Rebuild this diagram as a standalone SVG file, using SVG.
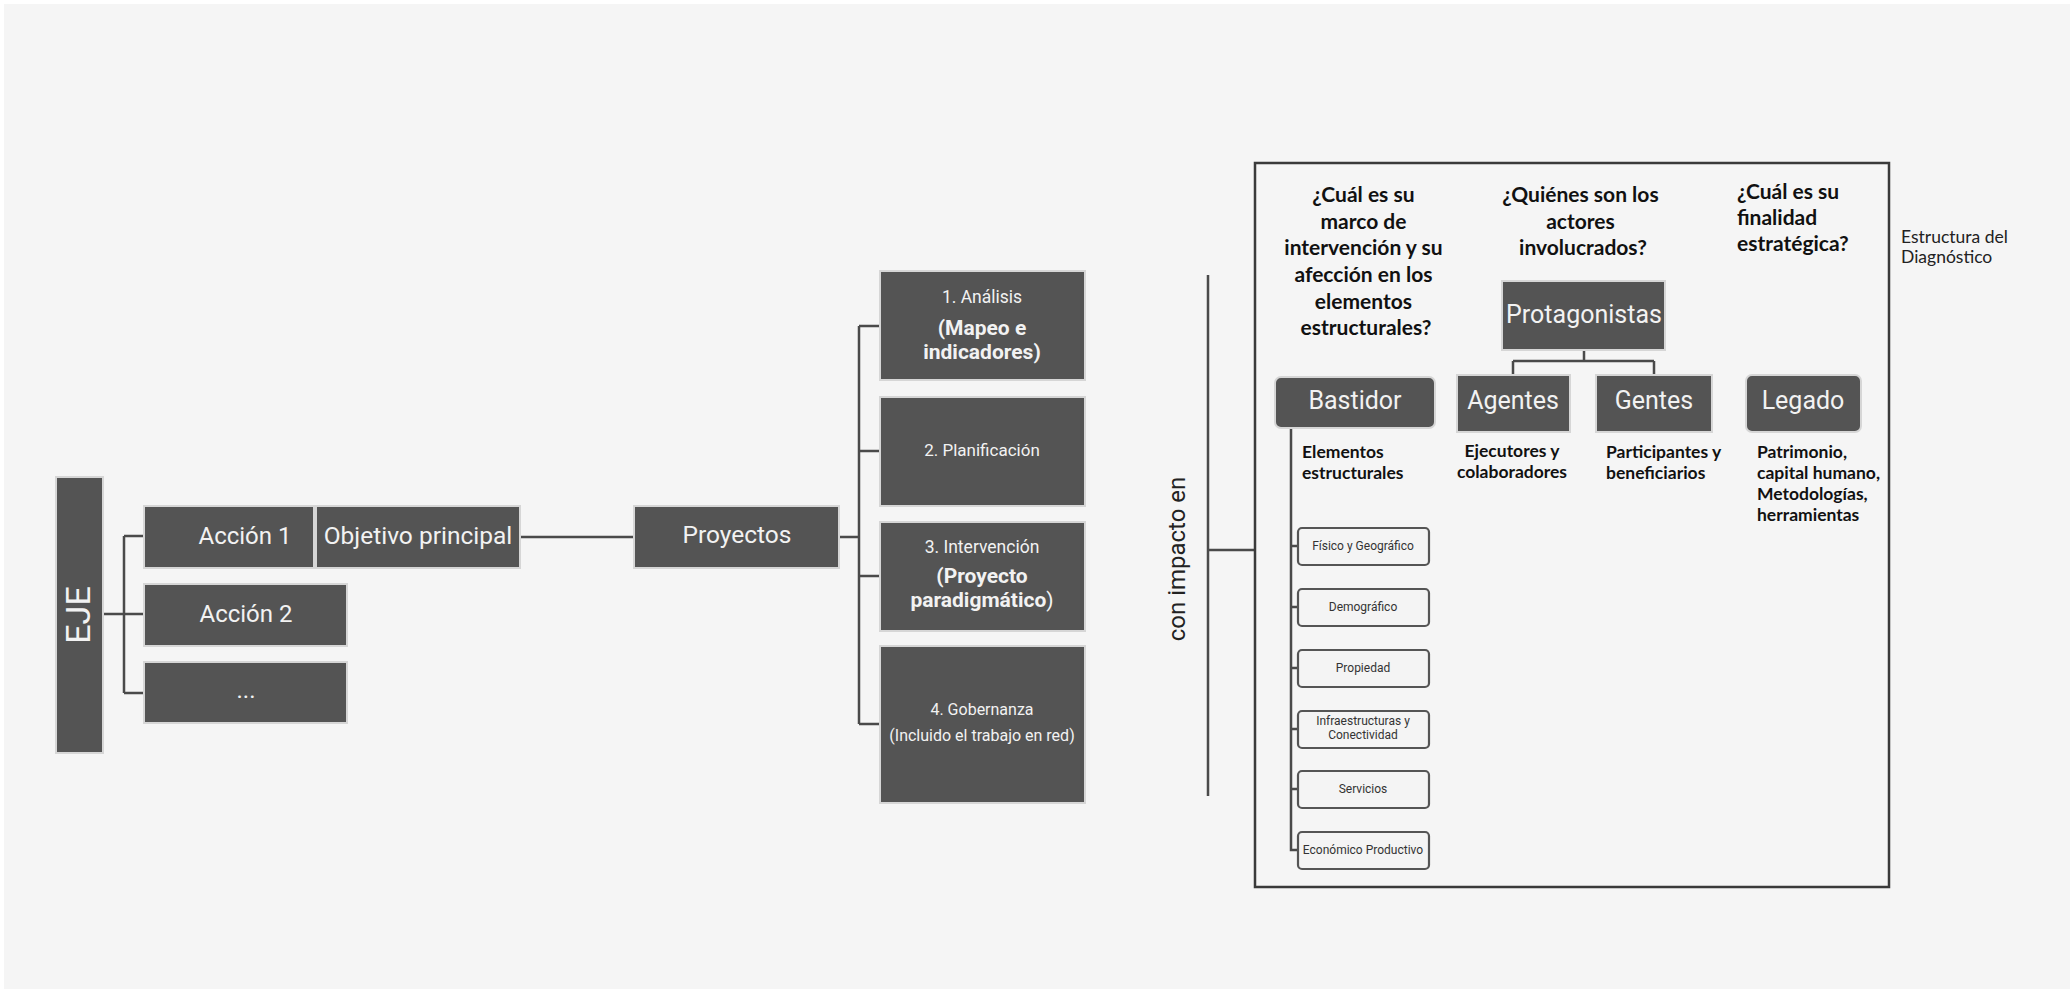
<svg xmlns="http://www.w3.org/2000/svg" width="2071" height="989" viewBox="0 0 2071 989">
<style>
.dk{fill:#545454;stroke:#d6d6d6;stroke-width:2}
.sm{fill:#f4f4f4;stroke:#555;stroke-width:2.2}
.con{fill:none;stroke:#4a4a4a;stroke-width:2.5}
.bt{font-family:Roboto,"Liberation Sans",sans-serif;fill:#f2f2f2;text-anchor:middle}
.st{font-family:Roboto,"Liberation Sans",sans-serif;fill:#333;font-size:12px;text-anchor:middle}
.q{font-family:Lato,"Liberation Sans",sans-serif;font-weight:bold;fill:#111;font-size:21px}
.d{font-family:Lato,"Liberation Sans",sans-serif;font-weight:bold;fill:#111;font-size:17.5px}
</style>
<rect x="0" y="0" width="2071" height="989" fill="#ffffff"/>
<rect x="4" y="4" width="2066" height="985" fill="#f5f5f5"/>

<g id="connectors">
<path class="con" d="M104 614 H124 M124 536 V693 M124 536 H144 M124 614 H144 M124 693 H144"/>
<path class="con" d="M521 537 H634"/>
<path class="con" d="M840 537 H859 M859 326 V724 M859 326 H880 M859 451 H880 M859 576 H880 M859 724 H880"/>
<path class="con" d="M1208 275 V796 M1208 550 H1255"/>
<path class="con" d="M1584 351 V361 M1513 361 H1654 M1513 361 V374 M1654 361 V374"/>
<path class="con" d="M1291 428 V850 H1298 M1291 546 H1298 M1291 607 H1298 M1291 668 H1298 M1291 729 H1298 M1291 789 H1298"/>
</g>

<g id="frame">
<rect x="1255" y="163" width="634" height="724" fill="none" stroke="#3a3a3a" stroke-width="2.5"/>
</g>

<g id="eje">
<rect class="dk" x="56" y="477" width="47" height="276"/>
<text class="bt" font-size="34" transform="translate(90,615) rotate(-90)">EJE</text>
</g>
<g id="accion1">
<rect class="dk" x="144" y="506" width="170" height="62"/>
<text class="bt" font-size="24" x="245" y="544">Acción 1</text>
</g>
<g id="objetivo">
<rect class="dk" x="316" y="506" width="204" height="62"/>
<text class="bt" font-size="24.5" x="418" y="544">Objetivo principal</text>
</g>
<g id="accion2">
<rect class="dk" x="144" y="584" width="203" height="62"/>
<text class="bt" font-size="24" x="246" y="622">Acción 2</text>
</g>
<g id="accion3">
<rect class="dk" x="144" y="662" width="203" height="61"/>
<text class="bt" font-size="24" x="246" y="698">...</text>
</g>
<g id="proyectos">
<rect class="dk" x="634" y="506" width="205" height="62"/>
<text class="bt" font-size="24.5" x="737" y="543">Proyectos</text>
</g>
<g id="analisis">
<rect class="dk" x="880" y="271" width="205" height="109"/>
<text class="bt" font-size="17.5" x="982" y="303">1. Análisis</text>
<text class="bt" font-size="21" font-weight="bold" x="982" y="335">(Mapeo e</text>
<text class="bt" font-size="21" font-weight="bold" x="982" y="359">indicadores)</text>
</g>
<g id="planificacion">
<rect class="dk" x="880" y="397" width="205" height="109"/>
<text class="bt" font-size="17" x="982" y="456">2. Planificación</text>
</g>
<g id="intervencion">
<rect class="dk" x="880" y="522" width="205" height="109"/>
<text class="bt" font-size="17.5" x="982" y="553">3. Intervención</text>
<text class="bt" font-size="21" font-weight="bold" x="982" y="583">(Proyecto</text>
<text class="bt" font-size="21" x="982" y="607"><tspan font-weight="bold">paradigmático</tspan>)</text>
</g>
<g id="gobernanza">
<rect class="dk" x="880" y="646" width="205" height="157"/>
<text class="bt" font-size="16" x="982" y="715">4. Gobernanza</text>
<text class="bt" font-size="16" x="982" y="741">(Incluido el trabajo en red)</text>
</g>

<g id="impacto">
<text font-family="Roboto,'Liberation Sans',sans-serif" font-size="24" fill="#222" text-anchor="middle" transform="translate(1185,559) rotate(-90)">con impacto en</text>
</g>

<g id="q1">
<text class="q" text-anchor="middle">
<tspan x="1366" y="202">¿Cuál es su</tspan>
<tspan x="1366" y="228.7">marco de</tspan>
<tspan x="1366" y="255.4">intervención y su</tspan>
<tspan x="1366" y="282">afección en los</tspan>
<tspan x="1366" y="308.7">elementos</tspan>
<tspan x="1366" y="335.4">estructurales?</tspan>
</text>
</g>
<g id="q2">
<text class="q" text-anchor="middle">
<tspan x="1583" y="202">¿Quiénes son los</tspan>
<tspan x="1583" y="228.7">actores</tspan>
<tspan x="1583" y="255.4">involucrados?</tspan>
</text>
</g>
<g id="q3">
<text class="q">
<tspan x="1737" y="199">¿Cuál es su</tspan>
<tspan x="1737" y="225">finalidad</tspan>
<tspan x="1737" y="251">estratégica?</tspan>
</text>
</g>
<g id="titulo">
<text font-family="Lato,'Liberation Sans',sans-serif" font-size="17.5" fill="#222">
<tspan x="1901" y="243">Estructura del</tspan>
<tspan x="1901" y="263">Diagnóstico</tspan>
</text>
</g>

<g id="protagonistas">
<rect class="dk" x="1502" y="281" width="163" height="69"/>
<text class="bt" font-size="25" x="1584" y="323">Protagonistas</text>
</g>
<g id="bastidor">
<rect class="dk" x="1275" y="377" width="160" height="51" rx="6"/>
<text class="bt" font-size="25" x="1355" y="409">Bastidor</text>
<text class="d"><tspan x="1302" y="458">Elementos</tspan><tspan x="1302" y="479">estructurales</tspan></text>
</g>
<g id="agentes">
<rect class="dk" x="1457" y="375" width="113" height="57"/>
<text class="bt" font-size="25" x="1513" y="409">Agentes</text>
<text class="d" text-anchor="middle"><tspan x="1512" y="457">Ejecutores y</tspan><tspan x="1512" y="478">colaboradores</tspan></text>
</g>
<g id="gentes">
<rect class="dk" x="1596" y="375" width="116" height="57"/>
<text class="bt" font-size="25" x="1654" y="409">Gentes</text>
<text class="d"><tspan x="1606" y="458">Participantes y</tspan><tspan x="1606" y="479">beneficiarios</tspan></text>
</g>
<g id="legado">
<rect class="dk" x="1746" y="375" width="115" height="57" rx="6"/>
<text class="bt" font-size="25" x="1803" y="409">Legado</text>
<text class="d"><tspan x="1757" y="458">Patrimonio,</tspan><tspan x="1757" y="479">capital humano,</tspan><tspan x="1757" y="500">Metodologías,</tspan><tspan x="1757" y="521">herramientas</tspan></text>
</g>

<g id="fisico">
<rect class="sm" x="1298" y="528" width="131" height="37" rx="4"/>
<text class="st" x="1363" y="550">Físico y Geográfico</text>
</g>
<g id="demografico">
<rect class="sm" x="1298" y="589" width="131" height="37" rx="4"/>
<text class="st" x="1363" y="611">Demográfico</text>
</g>
<g id="propiedad">
<rect class="sm" x="1298" y="650" width="131" height="37" rx="4"/>
<text class="st" x="1363" y="672">Propiedad</text>
</g>
<g id="infraestructuras">
<rect class="sm" x="1298" y="711" width="131" height="37" rx="4"/>
<text class="st" x="1363" y="725">Infraestructuras y</text>
<text class="st" x="1363" y="739">Conectividad</text>
</g>
<g id="servicios">
<rect class="sm" x="1298" y="771" width="131" height="37" rx="4"/>
<text class="st" x="1363" y="793">Servicios</text>
</g>
<g id="economico">
<rect class="sm" x="1298" y="832" width="131" height="37" rx="4"/>
<text class="st" x="1363" y="854">Económico Productivo</text>
</g>
</svg>
